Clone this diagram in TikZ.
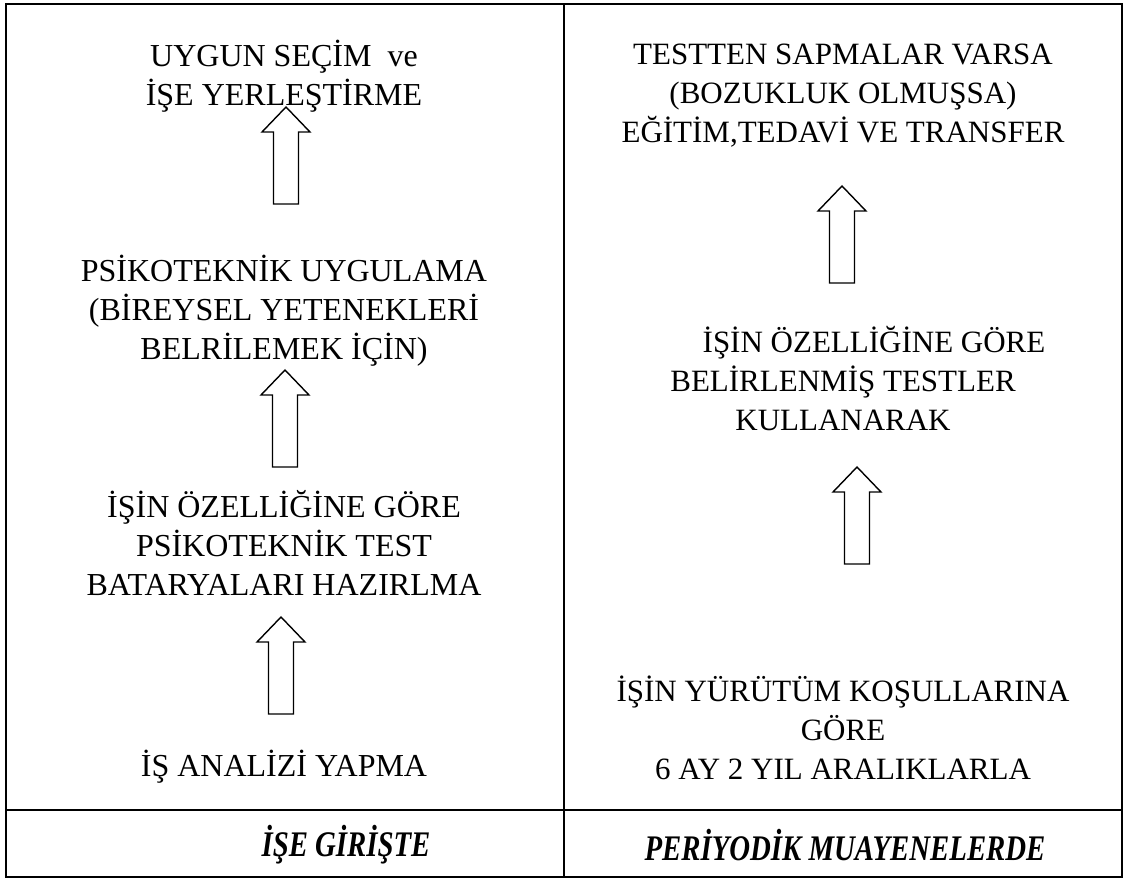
\documentclass[tikz,border=0pt]{standalone}
\usepackage{fontspec}
\setmainfont{Liberation Serif}
\newfontfamily\footfont[FakeStretch=0.8]{Liberation Serif}
\usetikzlibrary{positioning}
\tikzset{
    txt/.style = {align=center, inner sep=0pt,
        font=\fontsize{32}{39}\selectfont},
    txtr/.style = {txt, font=\fontsize{31}{39}\selectfont},
    foot/.style = {inner sep=0pt,
        font=\footfont\bfseries\itshape\fontsize{36}{40}\selectfont},
    frame/.style = {line width=1.6pt},
    uparrow/.pic = {
        \draw[line width=1.4pt, line join=miter]
            (0,0) -- (24,25) -- (12.5,25) -- (12.5,97)
            -- (-12.5,97) -- (-12.5,25) -- (-24,25) -- cycle;}
}

\begin{document}
\begin{tikzpicture}[x=1pt,y=-1pt]
    \useasboundingbox (0,0) rectangle (1129,881);
    % table
    \draw[frame] (6,4) rectangle (1122,877);
    \draw[frame] (564,4) -- (564,877);
    \draw[frame] (6,810) -- (1122,810);
    % left column
    \node [txt] (secim) at (284,76) {UYGUN SEÇİM\ \ ve\\İŞE YERLEŞTİRME};
    \node [txt] (uygulama) at (284,311) {PSİKOTEKNİK UYGULAMA\\(BİREYSEL YETENEKLERİ\\BELRİLEMEK İÇİN)};
    \node [txt] (batarya) at (284,543) {İŞİN ÖZELLİĞİNE GÖRE\\PSİKOTEKNİK TEST\\BATARYALARI HAZIRLMA};
    \node [txt] (analiz) at (284,767) {İŞ ANALİZİ YAPMA};
    \pic (u1) at (286,107) {uparrow};
    \pic (u2) at (285,370) {uparrow};
    \pic (u3) at (281,617) {uparrow};
    % right column
    \node [txtr] (transfer) at (843,96) {TESTTEN SAPMALAR VARSA\\(BOZUKLUK OLMUŞSA)\\EĞİTİM,TEDAVİ VE TRANSFER};
    \node [txtr] (testler) at (843,379) {\hspace*{2em}İŞİN ÖZELLİĞİNE GÖRE\\BELİRLENMİŞ TESTLER\\KULLANARAK};
    \node [txtr] (kosul) at (843,728) {İŞİN YÜRÜTÜM KOŞULLARINA\\GÖRE\\6 AY 2 YIL ARALIKLARLA};
    \pic (r1) at (842,186) {uparrow};
    \pic (r2) at (857,467) {uparrow};
    % footer
    \node [foot] (giris) at (346,845) {İŞE GİRİŞTE};
    \node [foot] (muayene) at (845,845) {PERİYODİK MUAYENELERDE};
\end{tikzpicture}
\end{document}
